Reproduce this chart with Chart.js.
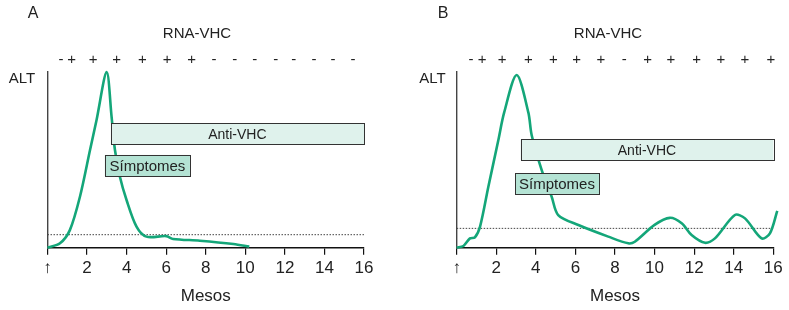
<!DOCTYPE html>
<html>
<head>
<meta charset="utf-8">
<script src="https://cdn.jsdelivr.net/npm/chart.js@4.4.1/dist/chart.umd.min.js"></script>
<style>
  html, body { margin: 0; padding: 0; background: #fff; }
  #wrap { position: relative; width: 789px; height: 310px; }
  .panel { position: absolute; top: 0; height: 310px; }
  #pa { left: 0; width: 395px; }
  #pb { left: 395px; width: 394px; }
</style>
</head>
<body>
<div id="wrap">
  <div class="panel" id="pa"><canvas id="chartA" width="395" height="310"></canvas></div>
  <div class="panel" id="pb"><canvas id="chartB" width="394" height="310"></canvas></div>
</div>
<script>
// ── Data (months since exposure, ALT relative level 0–100) ────────────────
const MONTHS_A = [0, 0.63, 1.13, 1.64, 2.15, 2.48, 2.99, 3.24, 3.41, 3.66, 4.0, 4.5, 5.0, 6.0, 6.35, 7.7, 9.4, 10.2];
const ALT_A    = [0, 2.5, 10, 29, 55.6, 72.7, 100, 74.5, 55.6, 40.4, 27, 12, 6.3, 6.6, 5, 4, 2.1, 0.6];

const MONTHS_B = [0, 0.34, 0.67, 0.92, 1.18, 1.6, 2.1, 2.4, 3.03, 3.62, 3.79, 4.3, 4.8, 5.13, 6.15, 7.66, 8.67, 9.0, 10.0, 10.77, 11.37, 11.87, 12.55, 13.05, 14.06, 14.57, 15.41, 15.83, 16.2];
const ALT_B    = [0, 1, 5.3, 5.9, 12, 34.7, 61, 77, 98.3, 77, 64, 44, 29, 18.6, 12.9, 6.3, 2.5, 3.4, 13, 17, 13.9, 7.2, 2.8, 5.3, 18.6, 16.7, 5.3, 8.2, 21];

const THRESHOLD_A = 7.4;
const THRESHOLD_B = 11;

// RNA-VHC results along the time axis
const RNA_POS_A = [0.68, 1.22, 2.31, 3.5, 4.8, 6.05, 7.28, 8.42, 9.47, 10.48, 11.54, 12.45, 13.47, 14.43, 15.44];
const RNA_A     = ["-", "+", "+", "+", "+", "+", "+", "-", "-", "-", "-", "-", "-", "-", "-"];
const RNA_POS_B = [0.72, 1.29, 2.3, 3.62, 4.88, 6.06, 7.29, 8.47, 9.65, 10.83, 12.13, 13.35, 14.57, 15.88];
const RNA_B     = ["-", "+", "+", "+", "+", "+", "+", "-", "+", "+", "+", "+", "+", "+"];

// Periods (months) of antibodies and symptoms
const ANTI_A = [3.2, 16];
const SYMP_A = [2.9, 7.2];
const ANTI_B = [3.23, 16];
const SYMP_B = [2.95, 7.19];

const X_TICKS = [0, 2, 4, 6, 8, 10, 12, 14, 16];

// ── Styling ────────────────────────────────────────────────────────────────
const GREEN = "#14a679";
const FONT = "'Liberation Sans', Arial, sans-serif";

function pts(xs, ys) {
  return xs.map((x, i) => ({ x, y: ys[i] }));
}

function makeChart(id, cfg) {
  const annot = {
    id: "annot",
    afterDatasetsDraw(chart) {
      const { ctx } = chart;
      const xs = chart.scales.x, ys = chart.scales.y;
      // boxes drawn over the curve
      cfg.boxes.forEach(b => {
        const x0 = xs.getPixelForValue(b.range[0]);
        const x1 = xs.getPixelForValue(b.range[1]);
        const y0 = ys.getPixelForValue(b.top);
        const y1 = ys.getPixelForValue(b.bottom);
        ctx.save();
        ctx.fillStyle = b.fill;
        ctx.strokeStyle = "#333";
        ctx.lineWidth = 1;
        ctx.fillRect(x0, y0, x1 - x0, y1 - y0);
        ctx.strokeRect(Math.round(x0) + 0.5, Math.round(y0) + 0.5, Math.round(x1 - x0), Math.round(y1 - y0));
        ctx.fillStyle = "#222";
        ctx.font = b.size + "px " + FONT;
        ctx.textAlign = "center";
        ctx.textBaseline = "middle";
        ctx.fillText(b.label, (x0 + x1) / 2, (y0 + y1) / 2 + 1);
        ctx.restore();
      });
    },
    afterDraw(chart) {
      const { ctx } = chart;
      const xs = chart.scales.x;
      ctx.save();
      ctx.fillStyle = "#222";
      ctx.textBaseline = "middle";
      ctx.textAlign = "center";
      ctx.font = "16px " + FONT;
      ctx.fillText(cfg.letter, cfg.letterX, 14);
      ctx.font = "15px " + FONT;
      ctx.fillText("RNA-VHC", cfg.rnaX, 34);
      ctx.fillText("ALT", cfg.altX, 79);
      cfg.signPos.forEach((p, i) => {
        ctx.fillText(cfg.signs[i], xs.getPixelForValue(p), 60);
      });
      ctx.restore();
    }
  };

  return new Chart(document.getElementById(id), {
    type: "line",
    data: {
      datasets: [
        {
          data: pts(cfg.months, cfg.alt),
          borderColor: GREEN,
          borderWidth: 2.6,
          pointRadius: 0,
          tension: 0.3,
          fill: false,
          clip: false,
        },
        {
          data: [{ x: 0, y: cfg.threshold }, { x: 16, y: cfg.threshold }],
          borderColor: "#444",
          borderWidth: 1,
          borderDash: [1.5, 1.5],
          pointRadius: 0,
        },
      ],
    },
    options: {
      responsive: false,
      animation: false,
      events: [],
      layout: { padding: { left: 0, right: cfg.padRight, top: 72, bottom: 0 } },
      plugins: { legend: { display: false }, tooltip: { enabled: false } },
      scales: {
        x: {
          type: "linear",
          min: 0, max: 16,
          afterBuildTicks: s => { s.ticks = X_TICKS.map(v => ({ value: v })); },
          afterFit: s => { s.height = 62.3; },
          grid: { display: true, drawOnChartArea: false, drawTicks: true, tickLength: 7, color: "#111", lineWidth: 1.2 },
          border: { display: true, color: "#111", width: 1.6 },
          ticks: {
            color: "#222",
            padding: 3,
            maxRotation: 0,
            autoSkip: false,
            font: c => ({ family: FONT, size: 17, weight: c.tick && c.tick.value === 0 ? "bold" : "normal" }),
            callback: v => (v === 0 ? "↑" : v),
          },
          title: {
            display: true,
            text: "Mesos",
            color: "#222",
            font: { family: FONT, size: 17 },
            padding: { top: 4, bottom: 3 },
          },
        },
        y: {
          min: 0, max: 100,
          afterFit: s => { s.width = cfg.axisLeft; },
          grid: { display: false },
          border: { display: true, color: "#444", width: 1.4 },
          ticks: { display: false },
        },
      },
    },
    plugins: [annot],
  });
}

makeChart("chartA", {
  months: MONTHS_A, alt: ALT_A, threshold: THRESHOLD_A,
  signPos: RNA_POS_A, signs: RNA_A,
  letter: "A", letterX: 33, rnaX: 197, altX: 22,
  axisLeft: 47.5, padRight: 31,
  boxes: [
    { label: "Anti-VHC", range: ANTI_A, top: 70.8, bottom: 59, fill: "#dff2ec", size: 14 },
    { label: "Símptomes", range: SYMP_A, top: 52.8, bottom: 40.8, fill: "#b4e3d4", size: 15 },
  ],
});

makeChart("chartB", {
  months: MONTHS_B, alt: ALT_B, threshold: THRESHOLD_B,
  signPos: RNA_POS_B, signs: RNA_B,
  letter: "B", letterX: 48, rnaX: 213, altX: 37.5,
  axisLeft: 61.7, padRight: 15.7,
  boxes: [
    { label: "Anti-VHC", range: ANTI_B, top: 61.7, bottom: 49.9, fill: "#dff2ec", size: 14 },
    { label: "Símptomes", range: SYMP_B, top: 42.3, bottom: 30.6, fill: "#b4e3d4", size: 15 },
  ],
});
</script>
</body>
</html>
